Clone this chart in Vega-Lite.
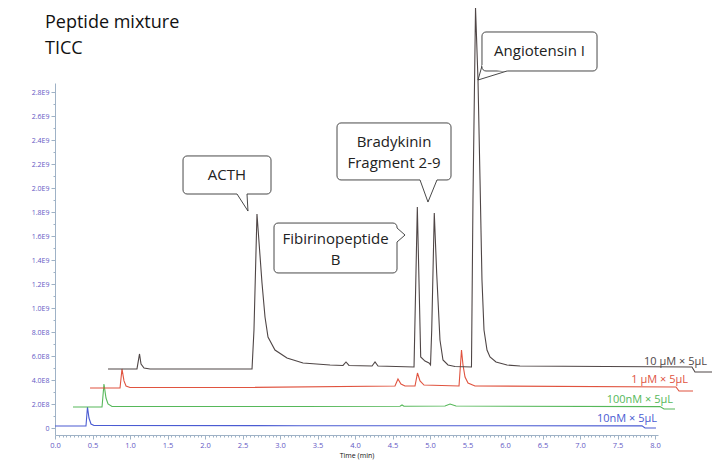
{
  "$schema": "https://vega.github.io/schema/vega-lite/v6.json",
  "width": 603,
  "height": 352,
  "autosize": {"type": "none"},
  "padding": {"left": 55, "top": 83, "right": 59, "bottom": 38},
  "background": "white",
  "config": {"view": {"stroke": null}, "font": "Open Sans"},
  "title": {"text": ["Peptide mixture", "TICC"], "anchor": "start", "frame": "group", "fontSize": 18, "fontWeight": "normal", "font": "Open Sans", "color": "#111111", "dx": -10, "dy": 82, "offset": 30, "lineHeight": 26},
  "datasets": {
    "traces": [
      {"s": "10 nM", "t": 0, "v": 0.17},
      {"s": "10 nM", "t": 0.413, "v": 0.17},
      {"s": "10 nM", "t": 0.433, "v": 1.75},
      {"s": "10 nM", "t": 0.453, "v": 0.83},
      {"s": "10 nM", "t": 0.48, "v": 0.33},
      {"s": "10 nM", "t": 0.52, "v": 0.21},
      {"s": "10 nM", "t": 3.267, "v": 0.19},
      {"s": "10 nM", "t": 5.933, "v": 0.19},
      {"s": "10 nM", "t": 7.827, "v": 0.18},
      {"s": "10 nM", "t": 7.867, "v": 0},
      {"s": "10 nM", "t": 8.013, "v": 0},
      {"s": "100 nM", "t": 0.24, "v": 1.75},
      {"s": "100 nM", "t": 0.627, "v": 1.75},
      {"s": "100 nM", "t": 0.653, "v": 3.67},
      {"s": "100 nM", "t": 0.68, "v": 2.5},
      {"s": "100 nM", "t": 0.707, "v": 2.0},
      {"s": "100 nM", "t": 0.76, "v": 1.79},
      {"s": "100 nM", "t": 3.267, "v": 1.79},
      {"s": "100 nM", "t": 4.6, "v": 1.81},
      {"s": "100 nM", "t": 4.627, "v": 1.92},
      {"s": "100 nM", "t": 4.653, "v": 1.81},
      {"s": "100 nM", "t": 5.2, "v": 1.83},
      {"s": "100 nM", "t": 5.267, "v": 2.0},
      {"s": "100 nM", "t": 5.347, "v": 1.83},
      {"s": "100 nM", "t": 8.067, "v": 1.78},
      {"s": "100 nM", "t": 8.12, "v": 1.58},
      {"s": "100 nM", "t": 8.267, "v": 1.58},
      {"s": "1 µM", "t": 0.467, "v": 3.33},
      {"s": "1 µM", "t": 0.867, "v": 3.33},
      {"s": "1 µM", "t": 0.893, "v": 4.92},
      {"s": "1 µM", "t": 0.92, "v": 3.92},
      {"s": "1 µM", "t": 0.947, "v": 3.5},
      {"s": "1 µM", "t": 1.0, "v": 3.38},
      {"s": "1 µM", "t": 2.6, "v": 3.38},
      {"s": "1 µM", "t": 4.533, "v": 3.5},
      {"s": "1 µM", "t": 4.573, "v": 4.08},
      {"s": "1 µM", "t": 4.613, "v": 3.67},
      {"s": "1 µM", "t": 4.667, "v": 3.5},
      {"s": "1 µM", "t": 4.8, "v": 3.5},
      {"s": "1 µM", "t": 4.833, "v": 4.58},
      {"s": "1 µM", "t": 4.867, "v": 3.92},
      {"s": "1 µM", "t": 4.92, "v": 3.58},
      {"s": "1 µM", "t": 5.387, "v": 3.5},
      {"s": "1 µM", "t": 5.42, "v": 6.5},
      {"s": "1 µM", "t": 5.44, "v": 5.25},
      {"s": "1 µM", "t": 5.467, "v": 4.25},
      {"s": "1 µM", "t": 5.507, "v": 3.75},
      {"s": "1 µM", "t": 5.6, "v": 3.5},
      {"s": "1 µM", "t": 8.28, "v": 3.42},
      {"s": "1 µM", "t": 8.32, "v": 3.08},
      {"s": "1 µM", "t": 8.507, "v": 3.08},
      {"s": "10 µM", "t": 0.707, "v": 4.92},
      {"s": "10 µM", "t": 1.093, "v": 4.92},
      {"s": "10 µM", "t": 1.127, "v": 6.17},
      {"s": "10 µM", "t": 1.147, "v": 5.33},
      {"s": "10 µM", "t": 1.187, "v": 5.0},
      {"s": "10 µM", "t": 1.267, "v": 4.92},
      {"s": "10 µM", "t": 2.627, "v": 4.92},
      {"s": "10 µM", "t": 2.653, "v": 8.17},
      {"s": "10 µM", "t": 2.693, "v": 17.83},
      {"s": "10 µM", "t": 2.76, "v": 12.08},
      {"s": "10 µM", "t": 2.8, "v": 9.25},
      {"s": "10 µM", "t": 2.84, "v": 7.58},
      {"s": "10 µM", "t": 2.933, "v": 6.5},
      {"s": "10 µM", "t": 3.093, "v": 5.83},
      {"s": "10 µM", "t": 3.307, "v": 5.42},
      {"s": "10 µM", "t": 3.667, "v": 5.25},
      {"s": "10 µM", "t": 3.84, "v": 5.21},
      {"s": "10 µM", "t": 3.88, "v": 5.5},
      {"s": "10 µM", "t": 3.92, "v": 5.21},
      {"s": "10 µM", "t": 4.227, "v": 5.17},
      {"s": "10 µM", "t": 4.267, "v": 5.5},
      {"s": "10 µM", "t": 4.307, "v": 5.17},
      {"s": "10 µM", "t": 4.787, "v": 5.08},
      {"s": "10 µM", "t": 4.831, "v": 18.42},
      {"s": "10 µM", "t": 4.876, "v": 5.92},
      {"s": "10 µM", "t": 4.933, "v": 5.58},
      {"s": "10 µM", "t": 4.987, "v": 5.42},
      {"s": "10 µM", "t": 5.007, "v": 5.25},
      {"s": "10 µM", "t": 5.023, "v": 8.17},
      {"s": "10 µM", "t": 5.057, "v": 17.92},
      {"s": "10 µM", "t": 5.089, "v": 12.92},
      {"s": "10 µM", "t": 5.133, "v": 7.33},
      {"s": "10 µM", "t": 5.173, "v": 5.67},
      {"s": "10 µM", "t": 5.24, "v": 5.25},
      {"s": "10 µM", "t": 5.333, "v": 5.13},
      {"s": "10 µM", "t": 5.553, "v": 5.08},
      {"s": "10 µM", "t": 5.573, "v": 19.0},
      {"s": "10 µM", "t": 5.607, "v": 35.0},
      {"s": "10 µM", "t": 5.64, "v": 29.0},
      {"s": "10 µM", "t": 5.667, "v": 20.67},
      {"s": "10 µM", "t": 5.693, "v": 12.33},
      {"s": "10 µM", "t": 5.72, "v": 8.17},
      {"s": "10 µM", "t": 5.76, "v": 6.5},
      {"s": "10 µM", "t": 5.8, "v": 5.92},
      {"s": "10 µM", "t": 5.88, "v": 5.5},
      {"s": "10 µM", "t": 6.027, "v": 5.25},
      {"s": "10 µM", "t": 6.2, "v": 5.17},
      {"s": "10 µM", "t": 8.493, "v": 5.08},
      {"s": "10 µM", "t": 8.533, "v": 4.67},
      {"s": "10 µM", "t": 8.76, "v": 4.67}
    ],
    "labels": [
      {"s": "10 µM", "text": "10 µM × 5µL", "t": 8.693, "v": 5.5},
      {"s": "1 µM", "text": "1 µM × 5µL", "t": 8.44, "v": 4.0},
      {"s": "100 nM", "text": "100nM × 5µL", "t": 8.24, "v": 2.33},
      {"s": "10 nM", "text": "10nM × 5µL", "t": 8.027, "v": 0.75}
    ],
    "boxes": [
      {"id": "ACTH", "t": 1.707, "t2": 2.88, "v": 19.5, "v2": 22.67},
      {"id": "Fib", "t": 2.92, "t2": 4.56, "v": 12.92, "v2": 17.08},
      {"id": "Bra", "t": 3.76, "t2": 5.28, "v": 20.67, "v2": 25.42},
      {"id": "Ang", "t": 5.693, "t2": 7.227, "v": 29.75, "v2": 33.0}
    ],
    "covers": [
      {"id": "ACTH", "t": 2.427, "t2": 2.56, "v": 19.5, "v2": 19.5},
      {"id": "Fib", "t": 4.56, "t2": 4.56, "v": 16.67, "v2": 15.5},
      {"id": "Bra", "t": 4.867, "t2": 5.093, "v": 20.67, "v2": 20.67},
      {"id": "Ang", "t": 5.693, "t2": 6.027, "v": 30.17, "v2": 29.75}
    ],
    "texts": [
      {"id": "ACTH", "text": "ACTH", "t": 2.293, "v": 21.08},
      {"id": "Fib", "text": "Fibirinopeptide\nB", "t": 3.74, "v": 15.75},
      {"id": "Bra", "text": "Bradykinin\nFragment 2-9", "t": 4.52, "v": 23.86},
      {"id": "Ang", "text": "Angiotensin   I", "t": 6.46, "v": 31.375}
    ],
    "pointers": [
      {"id": "ACTH", "k": 1, "t": 2.427, "v": 19.5},
      {"id": "ACTH", "k": 2, "t": 2.573, "v": 18.08},
      {"id": "ACTH", "k": 3, "t": 2.56, "v": 19.5},
      {"id": "Fib", "k": 1, "t": 4.56, "v": 16.67},
      {"id": "Fib", "k": 2, "t": 4.667, "v": 16.08},
      {"id": "Fib", "k": 3, "t": 4.56, "v": 15.5},
      {"id": "Bra", "k": 1, "t": 4.867, "v": 20.67},
      {"id": "Bra", "k": 2, "t": 4.973, "v": 18.83},
      {"id": "Bra", "k": 3, "t": 5.093, "v": 20.67},
      {"id": "Ang", "k": 1, "t": 5.693, "v": 30.17},
      {"id": "Ang", "k": 2, "t": 5.64, "v": 29.0},
      {"id": "Ang", "k": 3, "t": 6.027, "v": 29.75}
    ]
  },
  "encoding": {
    "x": {
      "field": "t", "type": "quantitative",
      "scale": {"domain": [0, 8.04], "nice": false, "zero": false},
      "axis": {
        "title": "Time (min)", "titleFontSize": 7, "titleFontWeight": "normal", "titleColor": "#111111", "titlePadding": 3,
        "values": [0,0.05,0.1,0.15,0.2,0.25,0.3,0.35,0.4,0.45,0.5,0.55,0.6,0.65,0.7,0.75,0.8,0.85,0.9,0.95,1,1.05,1.1,1.15,1.2,1.25,1.3,1.35,1.4,1.45,1.5,1.55,1.6,1.65,1.7,1.75,1.8,1.85,1.9,1.95,2,2.05,2.1,2.15,2.2,2.25,2.3,2.35,2.4,2.45,2.5,2.55,2.6,2.65,2.7,2.75,2.8,2.85,2.9,2.95,3,3.05,3.1,3.15,3.2,3.25,3.3,3.35,3.4,3.45,3.5,3.55,3.6,3.65,3.7,3.75,3.8,3.85,3.9,3.95,4,4.05,4.1,4.15,4.2,4.25,4.3,4.35,4.4,4.45,4.5,4.55,4.6,4.65,4.7,4.75,4.8,4.85,4.9,4.95,5,5.05,5.1,5.15,5.2,5.25,5.3,5.35,5.4,5.45,5.5,5.55,5.6,5.65,5.7,5.75,5.8,5.85,5.9,5.95,6,6.05,6.1,6.15,6.2,6.25,6.3,6.35,6.4,6.45,6.5,6.55,6.6,6.65,6.7,6.75,6.8,6.85,6.9,6.95,7,7.05,7.1,7.15,7.2,7.25,7.3,7.35,7.4,7.45,7.5,7.55,7.6,7.65,7.7,7.75,7.8,7.85,7.9,7.95,8],
        "labelExpr": "abs(datum.value*2 - round(datum.value*2)) < 0.001 ? format(datum.value, '.1f') : ''",
        "labelOverlap": false, "labelFlush": false, "labelBound": false,
        "labelFontSize": 7.5, "labelColor": "#6358c4", "labelPadding": 2,
        "tickSize": {"condition": {"test": "abs(datum.value*2 - round(datum.value*2)) < 0.001", "value": 4}, "value": 2},
        "tickColor": "#9fb2c6", "domainColor": "#9fb2c6", "grid": false
      }
    },
    "y": {
      "field": "v", "type": "quantitative",
      "scale": {"domain": [-0.583, 28.75], "nice": false, "zero": false},
      "axis": {
        "title": null,
        "values": [0,1,2,3,4,5,6,7,8,9,10,11,12,13,14,15,16,17,18,19,20,21,22,23,24,25,26,27,28],
        "labelExpr": "datum.value % 2 == 0 ? (datum.value == 0 ? '0' : replace(format(datum.value*1e8, '.1e'), 'e+', 'E')) : ''",
        "labelOverlap": false, "labelFlush": false, "labelBound": false,
        "labelFontSize": 7, "labelColor": "#6358c4", "labelPadding": 2,
        "tickSize": {"condition": {"test": "datum.value % 2 == 0", "value": 4}, "value": 2},
        "tickColor": "#9fb2c6", "domainColor": "#9fb2c6", "grid": false
      }
    }
  },
  "layer": [
    {
      "data": {"name": "traces"},
      "mark": {"type": "line", "strokeWidth": 1.1, "clip": false, "interpolate": "linear"},
      "encoding": {
        "color": {
          "field": "s", "type": "nominal", "legend": null,
          "scale": {"domain": ["10 µM", "1 µM", "100 nM", "10 nM"], "range": ["#4f4646", "#e0533f", "#56b85a", "#4a5bd2"]}
        }
      }
    },
    {
      "data": {"name": "labels"},
      "mark": {"type": "text", "align": "right", "baseline": "middle", "fontSize": 11, "font": "Open Sans", "clip": false, "letterSpacing": -0.3},
      "encoding": {
        "text": {"field": "text"},
        "color": {"field": "s", "type": "nominal", "legend": null, "scale": {"domain": ["10 µM", "1 µM", "100 nM", "10 nM"], "range": ["#4f4646", "#e0533f", "#56b85a", "#4a5bd2"]}}
      }
    },
    {
      "data": {"name": "boxes"},
      "mark": {"type": "rect", "fill": "white", "stroke": "#333333", "strokeWidth": 0.9, "cornerRadius": 4, "clip": false},
      "encoding": {
        "x2": {"field": "t2"},
        "y2": {"field": "v2"}
      }
    },
    {
      "data": {"name": "covers"},
      "mark": {"type": "rule", "stroke": "white", "strokeWidth": 2, "clip": false},
      "encoding": {
        "x2": {"field": "t2"},
        "y2": {"field": "v2"}
      }
    },
    {
      "data": {"name": "pointers"},
      "mark": {"type": "line", "stroke": "#333333", "strokeWidth": 0.9, "clip": false},
      "encoding": {
        "detail": {"field": "id", "type": "nominal"},
        "order": {"field": "k", "type": "quantitative"}
      }
    },
    {
      "data": {"name": "texts"},
      "mark": {"type": "text", "align": "center", "baseline": "middle", "fontSize": 15, "font": "Open Sans", "color": "#222222", "lineBreak": "\n", "lineHeight": 21, "clip": false},
      "encoding": {
        "text": {"field": "text"}
      }
    }
  ]
}
